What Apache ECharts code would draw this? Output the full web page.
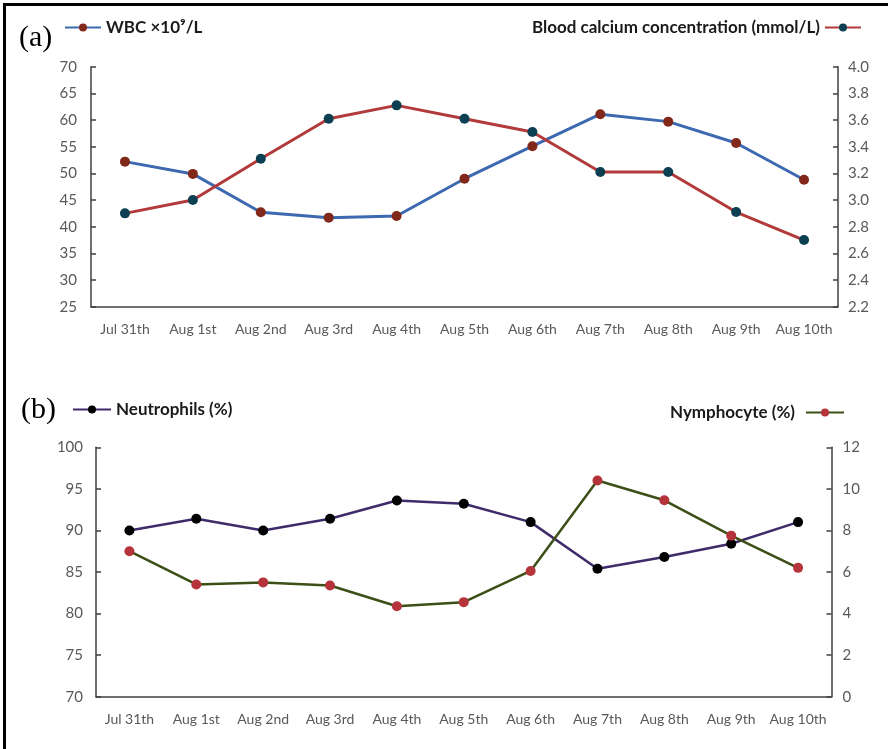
<!DOCTYPE html>
<html>
<head>
<meta charset="utf-8">
<script src="https://cdn.jsdelivr.net/npm/echarts@6/dist/echarts.min.js"></script>
<style>
html,body{margin:0;padding:0;background:#fff;}
#chart{width:888px;height:749px;}
</style>
</head>
<body>
<div id="chart"></div>
<script>
var categories = ['Jul 31th','Aug 1st','Aug 2nd','Aug 3rd','Aug 4th','Aug 5th','Aug 6th','Aug 7th','Aug 8th','Aug 9th','Aug 10th'];
var wbc = [52.2, 49.9, 42.7, 41.7, 42.0, 49.0, 55.1, 61.1, 59.7, 55.7, 48.8];
var calcium = [2.9, 3.0, 3.31, 3.61, 3.71, 3.61, 3.51, 3.21, 3.21, 2.91, 2.7];
var neutrophils = [90.0, 91.4, 90.0, 91.4, 93.6, 93.2, 91.0, 85.4, 86.8, 88.4, 91.0];
var nymphocyte = [7.0, 5.4, 5.5, 5.35, 4.35, 4.55, 6.05, 10.4, 9.45, 7.75, 6.2];

var names = ['WBC ×10⁹/L', 'Blood calcium concentration (mmol/L)', 'Neutrophils (%)', 'Nymphocyte (%)'];

var FONT = 'Lato, "Open Sans", sans-serif';
var AXC = '#404040';
var LBL = '#595959';

function xAxisCfg(gi){
  return {
    type:'category', gridIndex:gi, data:categories, boundaryGap:true,
    axisLine:{lineStyle:{color:AXC,width:1.5}},
    axisTick:{inside:true,alignWithLabel:true,length:5,lineStyle:{color:AXC,width:1.5}},
    axisLabel:{color:LBL,fontFamily:FONT,fontSize:14,margin:16,interval:0},
    splitLine:{show:false}
  };
}
function yAxisCfg(gi,pos,min,max,step,dec,margin){
  return {
    type:'value', gridIndex:gi, position:pos, min:min, max:max, interval:step,
    axisLine:{show:true,lineStyle:{color:AXC,width:1.5}},
    axisTick:{show:true,inside:true,length:5,lineStyle:{color:AXC,width:1.5}},
    axisLabel:{color:LBL,fontFamily:FONT,fontSize:15,margin:margin,
      formatter:function(v){return dec?v.toFixed(dec):String(Math.round(v));}},
    splitLine:{show:false}
  };
}
var LEG_TXT = {fontFamily:FONT,fontSize:17,fontWeight:'bold',color:'#1a1a1a'};

var chart = echarts.init(document.getElementById('chart'));
chart.setOption({
  animation:false,
  backgroundColor:'#fff',
  grid:[
    {left:91, right:50, top:66.7, height:240},
    {left:96, right:56.5, top:447.3, height:249.4}
  ],
  xAxis:[xAxisCfg(0), xAxisCfg(1)],
  yAxis:[
    yAxisCfg(0,'left',25,70,5,0,14),
    yAxisCfg(0,'right',2.2,4.0,0.2,1,10),
    yAxisCfg(1,'left',70,100,5,0,13),
    yAxisCfg(1,'right',0,12,2,0,11)
  ],
  legend:[
    {data:[names[0]], left:64, top:19, padding:0, itemWidth:36, itemHeight:10, itemGap:6, textStyle:LEG_TXT},
    {data:[names[1]], right:26, top:19, padding:0, align:'right', itemWidth:36, itemHeight:10, textStyle:LEG_TXT},
    {data:[names[2]], left:72, top:401, padding:0, itemWidth:38, itemHeight:10, textStyle:LEG_TXT},
    {data:[names[3]], right:43, top:404, padding:0, align:'right', itemWidth:38, itemHeight:10,
     textStyle:{fontFamily:FONT,fontSize:17,fontWeight:'bold',color:'#1a1a1a',padding:[0,6,0,0]}}
  ],
  graphic:[
    {type:'rect', shape:{x:4.5,y:4.5,width:1000,height:1000}, style:{fill:'none',stroke:'#000',lineWidth:3}},
    {type:'text', left:19, top:23, style:{text:'(a)', font:'30px "Liberation Serif", serif', fill:'#000'}},
    {type:'text', left:21, top:395, style:{text:'(b)', font:'30px "Liberation Serif", serif', fill:'#000'}}
  ],
  series:[
    {name:names[0], type:'line', xAxisIndex:0, yAxisIndex:0, data:wbc,
     symbol:'circle', symbolSize:10,
     lineStyle:{color:'#3d69b1', width:3}, itemStyle:{color:'#82281b'}},
    {name:names[1], type:'line', xAxisIndex:0, yAxisIndex:1, data:calcium,
     symbol:'circle', symbolSize:10,
     lineStyle:{color:'#b33a3b', width:3}, itemStyle:{color:'#0d3f52'}},
    {name:names[2], type:'line', xAxisIndex:1, yAxisIndex:2, data:neutrophils,
     symbol:'circle', symbolSize:10,
     lineStyle:{color:'#3f2b6a', width:2.5}, itemStyle:{color:'#000000'}},
    {name:names[3], type:'line', xAxisIndex:1, yAxisIndex:3, data:nymphocyte,
     symbol:'circle', symbolSize:10,
     lineStyle:{color:'#3b4f16', width:2.5}, itemStyle:{color:'#b5333a'}}
  ]
});
</script>
</body>
</html>
